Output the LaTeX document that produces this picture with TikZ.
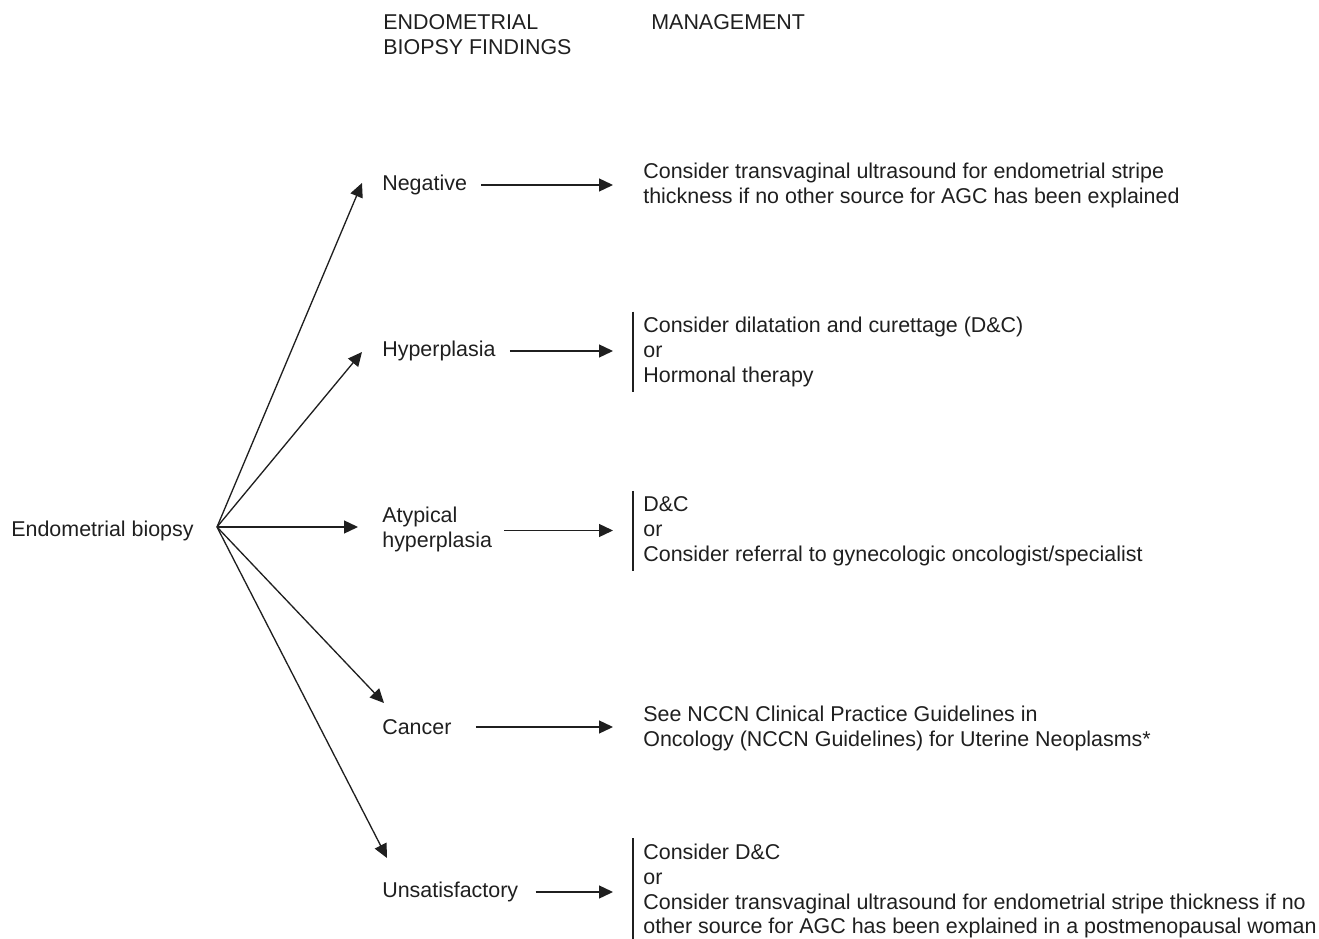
\documentclass[tikz,border=0pt]{standalone}
\usepackage{fontspec}
\setmainfont{Liberation Sans}
\usepackage{tikz}
\usetikzlibrary{arrows.meta}

\tikzset{
  txt/.style={inner sep=0pt, anchor=west, align=left, text=black!88,
    font=\fontsize{12.2}{14.2}\selectfont},
  mgmt/.style={txt, inner xsep=0.2cm, inner ysep=0.1cm},
  arr/.style={draw=black!88, line width=0.75pt,
    -{Triangle[length=0.28cm, width=0.26cm]}},
  barred/.style={append after command={
    (\tikzlastnode.north west) edge[draw=black!88, line width=0.75pt] (\tikzlastnode.south west)}}
}

\begin{document}
\begin{tikzpicture}[x=0.02cm, y=-0.02cm]
  \useasboundingbox (0, 0) rectangle (1319, 939);
  % column headers
  \node[txt] (hdrfind) at (383, 35) {ENDOMETRIAL\\BIOPSY FINDINGS};
  \node[txt] (hdrman) at (651, 22) {MANAGEMENT};
  % root and fan
  \node[txt] (root) at (11, 531) {Endometrial biopsy};
  \coordinate (fan) at (217, 527);
  % findings
  \node[txt] (neg) at (382, 185) {Negative};
  \node[txt] (hyp) at (382, 351) {Hyperplasia};
  \node[txt] (atyp) at (382, 529) {Atypical\\hyperplasia};
  \node[txt] (canc) at (382, 727) {Cancer};
  \node[txt] (unsat) at (382, 892) {Unsatisfactory};
  \coordinate (tipneg) at (362, 183);
  \coordinate (tiphyp) at (362, 352);
  \coordinate (tipatyp) at (358, 527);
  \coordinate (tipcanc) at (384, 703);
  \coordinate (tipunsat) at (387, 858);
  \foreach \t in {tipneg, tiphyp, tipatyp, tipcanc, tipunsat}
    \draw[arr] (fan) -- (\t);
  % management
  \node[mgmt] (negm) at (633, 185)
    {Consider transvaginal ultrasound for endometrial stripe\\thickness if no other source for AGC has been explained};
  \node[mgmt, barred] (hypm) at (633, 352)
    {Consider dilatation and curettage (D\&C)\\or\\Hormonal therapy};
  \node[mgmt, barred] (atypm) at (633, 531)
    {D\&C\\or\\Consider referral to gynecologic oncologist/specialist};
  \node[mgmt] (cancm) at (633, 728)
    {See NCCN Clinical Practice Guidelines in\\Oncology (NCCN Guidelines) for Uterine Neoplasms*};
  \node[mgmt, barred] (unsatm) at (633, 891)
    {Consider D\&C\\or\\Consider transvaginal ultrasound for endometrial stripe thickness if no\\other source for AGC has been explained in a postmenopausal woman};
  % finding to management
  \draw[arr, shorten <=0.28cm, shorten >=0.4cm] (neg.east) -- (neg.east -| negm.west);
  \draw[arr, shorten <=0.28cm, shorten >=0.4cm] (hyp.east) -- (hyp.east -| hypm.west);
  \draw[arr, shorten <=0.24cm, shorten >=0.4cm] ([yshift=-0.03cm]atyp.east) -- ([yshift=-0.03cm]atyp.east -| atypm.west);
  \draw[arr, shorten <=0.48cm, shorten >=0.4cm] (canc.east) -- (canc.east -| cancm.west);
  \draw[arr, shorten <=0.34cm, shorten >=0.4cm] (unsat.east) -- (unsat.east -| unsatm.west);
\end{tikzpicture}
\end{document}
